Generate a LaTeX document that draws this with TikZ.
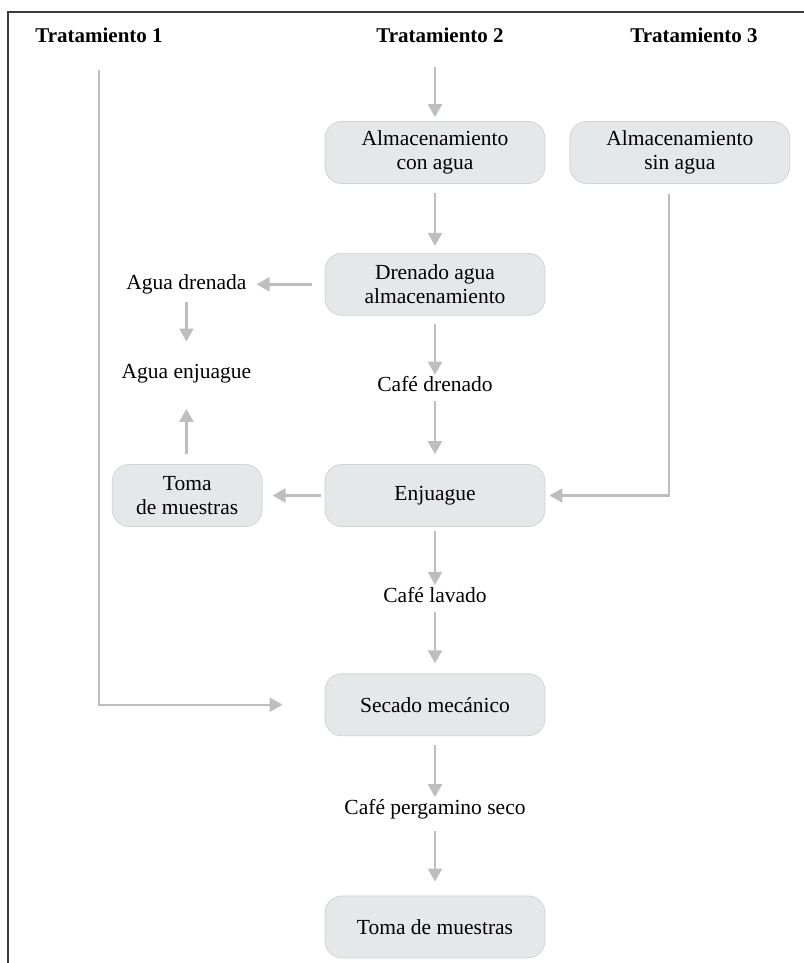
\documentclass[tikz,border=0pt]{standalone}
\usepackage{fontspec}
\setmainfont{Liberation Serif}
\usetikzlibrary{arrows.meta,positioning}

\definecolor{boxfill}{HTML}{E6E7E8}
\definecolor{boxline}{HTML}{D1D3D4}
\definecolor{flowgray}{HTML}{BCBEC0}
\definecolor{framegray}{HTML}{3C3C3C}

\begin{document}
\begin{tikzpicture}[
    x=1pt, y=1pt,
    font=\fontsize{21.5}{24}\selectfont,
    proc/.style={rounded corners=17pt, fill=boxfill, draw=boxline, line width=0.8pt,
      minimum width=220pt, minimum height=62pt, align={center}},
    smallproc/.style={proc, minimum width=150pt},
    lbl/.style={inner sep=0pt, text height=15pt, text depth=5pt},
    head/.style={lbl, font=\fontsize{21}{24}\selectfont\bfseries},
    flow/.style={draw=flowgray, line width=2.4pt, -{Triangle[length=13pt,width=14pt]},
      shorten <=8pt, shorten >=8pt}
  ]
  \useasboundingbox (0,0) rectangle (803,-963);
  \draw[framegray, line width=2.6pt] (8,-975) -- (8,-12) -- (815,-12);

  \node[head] (trat1) at (99,-38) {Tratamiento 1};
  \node[head] (trat2) at (440,-38) {Tratamiento 2};
  \node[head] (trat3) at (694,-38) {Tratamiento 3};

  \node[proc] (almagua) at (435,-152.5) {Almacenamiento\\ con agua};
  \node[proc, right=24pt of almagua] (almsinagua) {Almacenamiento\\ sin agua};
  \node[proc, below=69pt of almagua] (drenado) {Drenado agua\\ almacenamiento};
  \node[lbl, below=61pt of drenado] (cafedrenado) {Café drenado};
  \node[proc, below=67pt of cafedrenado] (enjuague) {Enjuague};
  \node[lbl, below=60pt of enjuague] (cafelavado) {Café lavado};
  \node[proc, below=66pt of cafelavado] (secado) {Secado mecánico};
  \node[lbl, below=63pt of secado] (cafeseco) {Café pergamino seco};
  \node[proc, below=76pt of cafeseco] (tomamuestras2) {Toma de muestras};

  \node[lbl, left=78pt of drenado] (aguadrenada) {Agua drenada};
  \node[lbl, below=69pt of aguadrenada] (aguaenjuague) {Agua enjuague};
  \node[smallproc, left=62pt of enjuague] (tomamuestras1) {Toma\\ de muestras};

  \draw[flow, shorten <=19pt, shorten >=4pt] (trat2.south -| almagua.north) -- (almagua);
  \draw[flow, shorten <=9pt, shorten >=7pt] (almagua) -- (drenado);
  \draw[flow, shorten >=2pt] (drenado) -- (cafedrenado);
  \draw[flow, shorten <=4pt, shorten >=10pt] (cafedrenado) -- (enjuague);
  \draw[flow, shorten <=4pt, shorten >=2pt] (enjuague) -- (cafelavado);
  \draw[flow, shorten <=5pt, shorten >=10pt] (cafelavado) -- (secado);
  \draw[flow, shorten <=9pt, shorten >=2pt] (secado) -- (cafeseco);
  \draw[flow, shorten <=11pt, shorten >=14pt] (cafeseco) -- (tomamuestras2);

  \draw[flow, shorten <=13pt, shorten >=10pt] (drenado.west) -- (aguadrenada.east);
  \draw[flow, shorten <=7pt, shorten >=22pt] (aguadrenada) -- (aguaenjuague);
  \draw[flow, shorten <=4pt, shorten >=10pt] (enjuague.west) -- (enjuague.west -| tomamuestras1.east);
  \draw[flow, shorten <=10pt, shorten >=25pt] (tomamuestras1.north -| aguaenjuague.south) -- (aguaenjuague.south);

  \draw[flow, shorten <=10pt, shorten >=4pt] ([xshift=-11pt]almsinagua.south) |- (enjuague.east);
  \draw[flow, shorten <=22pt, shorten >=42pt] (trat1.south) |- (secado.west);
\end{tikzpicture}
\end{document}
